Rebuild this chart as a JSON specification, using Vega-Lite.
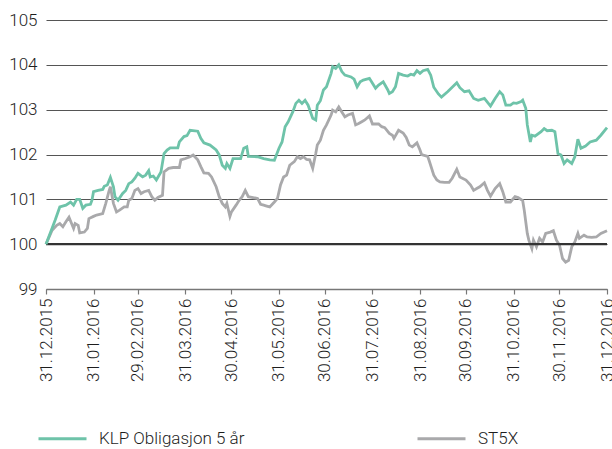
{
  "$schema": "https://vega.github.io/schema/vega-lite/v6.json",
  "width": 561,
  "height": 269,
  "autosize": {"type": "none"},
  "padding": {"left": 46, "top": 20, "right": 5, "bottom": 160},
  "config": {
    "font": "Roboto",
    "view": {"stroke": null},
    "axis": {"labelFont": "Roboto", "labelFontSize": 17, "labelColor": "#1e1e1e", "labelFontWeight": 300}
  },
  "datasets": {
    "klp": [
      {"date": "2015-12-31", "value": 100.0},
      {"date": "2016-01-06", "value": 100.54},
      {"date": "2016-01-09", "value": 100.83},
      {"date": "2016-01-13", "value": 100.87},
      {"date": "2016-01-16", "value": 100.94},
      {"date": "2016-01-18", "value": 100.87},
      {"date": "2016-01-20", "value": 101.0},
      {"date": "2016-01-22", "value": 101.0},
      {"date": "2016-01-24", "value": 100.8},
      {"date": "2016-01-26", "value": 100.87},
      {"date": "2016-01-29", "value": 100.89},
      {"date": "2016-01-30", "value": 100.98},
      {"date": "2016-01-31", "value": 101.17},
      {"date": "2016-02-03", "value": 101.2},
      {"date": "2016-02-06", "value": 101.22},
      {"date": "2016-02-07", "value": 101.29},
      {"date": "2016-02-09", "value": 101.32},
      {"date": "2016-02-11", "value": 101.49},
      {"date": "2016-02-13", "value": 101.28},
      {"date": "2016-02-14", "value": 101.06},
      {"date": "2016-02-16", "value": 100.98},
      {"date": "2016-02-19", "value": 101.13},
      {"date": "2016-02-21", "value": 101.2},
      {"date": "2016-02-23", "value": 101.35},
      {"date": "2016-02-25", "value": 101.39},
      {"date": "2016-02-27", "value": 101.47},
      {"date": "2016-02-29", "value": 101.58},
      {"date": "2016-03-03", "value": 101.5},
      {"date": "2016-03-05", "value": 101.54},
      {"date": "2016-03-07", "value": 101.64},
      {"date": "2016-03-08", "value": 101.5},
      {"date": "2016-03-10", "value": 101.52},
      {"date": "2016-03-12", "value": 101.43},
      {"date": "2016-03-15", "value": 101.61},
      {"date": "2016-03-17", "value": 102.02},
      {"date": "2016-03-19", "value": 102.1},
      {"date": "2016-03-21", "value": 102.15},
      {"date": "2016-03-26", "value": 102.15},
      {"date": "2016-03-27", "value": 102.28},
      {"date": "2016-03-30", "value": 102.4},
      {"date": "2016-04-01", "value": 102.42},
      {"date": "2016-04-03", "value": 102.54},
      {"date": "2016-04-08", "value": 102.52},
      {"date": "2016-04-10", "value": 102.36},
      {"date": "2016-04-12", "value": 102.26},
      {"date": "2016-04-16", "value": 102.21},
      {"date": "2016-04-20", "value": 102.1},
      {"date": "2016-04-22", "value": 101.99},
      {"date": "2016-04-24", "value": 101.76},
      {"date": "2016-04-26", "value": 101.69},
      {"date": "2016-04-27", "value": 101.8},
      {"date": "2016-04-29", "value": 101.69},
      {"date": "2016-05-01", "value": 101.91},
      {"date": "2016-05-06", "value": 101.91},
      {"date": "2016-05-08", "value": 102.14},
      {"date": "2016-05-10", "value": 102.17},
      {"date": "2016-05-11", "value": 101.96},
      {"date": "2016-05-17", "value": 101.95},
      {"date": "2016-05-21", "value": 101.91},
      {"date": "2016-05-25", "value": 101.88},
      {"date": "2016-05-28", "value": 101.87},
      {"date": "2016-05-31", "value": 102.14},
      {"date": "2016-06-02", "value": 102.28},
      {"date": "2016-06-04", "value": 102.62},
      {"date": "2016-06-06", "value": 102.73},
      {"date": "2016-06-09", "value": 102.95},
      {"date": "2016-06-11", "value": 103.14},
      {"date": "2016-06-13", "value": 103.21},
      {"date": "2016-06-15", "value": 103.14},
      {"date": "2016-06-17", "value": 103.21},
      {"date": "2016-06-19", "value": 103.1},
      {"date": "2016-06-22", "value": 102.81},
      {"date": "2016-06-24", "value": 102.77},
      {"date": "2016-06-25", "value": 103.1},
      {"date": "2016-06-27", "value": 103.2},
      {"date": "2016-06-29", "value": 103.44},
      {"date": "2016-07-01", "value": 103.51},
      {"date": "2016-07-04", "value": 103.81},
      {"date": "2016-07-05", "value": 103.96},
      {"date": "2016-07-07", "value": 103.92},
      {"date": "2016-07-09", "value": 104.0},
      {"date": "2016-07-11", "value": 103.85},
      {"date": "2016-07-13", "value": 103.77},
      {"date": "2016-07-17", "value": 103.73},
      {"date": "2016-07-19", "value": 103.68},
      {"date": "2016-07-21", "value": 103.51},
      {"date": "2016-07-23", "value": 103.62},
      {"date": "2016-07-25", "value": 103.66},
      {"date": "2016-07-29", "value": 103.7},
      {"date": "2016-07-31", "value": 103.59},
      {"date": "2016-08-02", "value": 103.48},
      {"date": "2016-08-04", "value": 103.55},
      {"date": "2016-08-07", "value": 103.62},
      {"date": "2016-08-10", "value": 103.44},
      {"date": "2016-08-11", "value": 103.36},
      {"date": "2016-08-13", "value": 103.4},
      {"date": "2016-08-15", "value": 103.51},
      {"date": "2016-08-17", "value": 103.81},
      {"date": "2016-08-20", "value": 103.77},
      {"date": "2016-08-23", "value": 103.75},
      {"date": "2016-08-25", "value": 103.79},
      {"date": "2016-08-27", "value": 103.77},
      {"date": "2016-08-29", "value": 103.87},
      {"date": "2016-08-31", "value": 103.81},
      {"date": "2016-09-02", "value": 103.87},
      {"date": "2016-09-05", "value": 103.9},
      {"date": "2016-09-07", "value": 103.77},
      {"date": "2016-09-09", "value": 103.5},
      {"date": "2016-09-12", "value": 103.35},
      {"date": "2016-09-14", "value": 103.28},
      {"date": "2016-09-18", "value": 103.4},
      {"date": "2016-09-21", "value": 103.5},
      {"date": "2016-09-24", "value": 103.6},
      {"date": "2016-09-26", "value": 103.49},
      {"date": "2016-09-29", "value": 103.4},
      {"date": "2016-10-02", "value": 103.42},
      {"date": "2016-10-05", "value": 103.25},
      {"date": "2016-10-08", "value": 103.21},
      {"date": "2016-10-12", "value": 103.25},
      {"date": "2016-10-16", "value": 103.08},
      {"date": "2016-10-19", "value": 103.25},
      {"date": "2016-10-22", "value": 103.4},
      {"date": "2016-10-24", "value": 103.33},
      {"date": "2016-10-26", "value": 103.1},
      {"date": "2016-10-29", "value": 103.1},
      {"date": "2016-10-31", "value": 103.15},
      {"date": "2016-11-02", "value": 103.14},
      {"date": "2016-11-05", "value": 103.18},
      {"date": "2016-11-06", "value": 103.21},
      {"date": "2016-11-08", "value": 103.03},
      {"date": "2016-11-09", "value": 102.66},
      {"date": "2016-11-11", "value": 102.28},
      {"date": "2016-11-12", "value": 102.43},
      {"date": "2016-11-14", "value": 102.41},
      {"date": "2016-11-18", "value": 102.51},
      {"date": "2016-11-20", "value": 102.58},
      {"date": "2016-11-22", "value": 102.53},
      {"date": "2016-11-25", "value": 102.54},
      {"date": "2016-11-27", "value": 102.51},
      {"date": "2016-11-29", "value": 102.02},
      {"date": "2016-12-01", "value": 101.99},
      {"date": "2016-12-03", "value": 101.8},
      {"date": "2016-12-05", "value": 101.88},
      {"date": "2016-12-08", "value": 101.8},
      {"date": "2016-12-10", "value": 101.95},
      {"date": "2016-12-12", "value": 102.34},
      {"date": "2016-12-14", "value": 102.14},
      {"date": "2016-12-17", "value": 102.19},
      {"date": "2016-12-20", "value": 102.28},
      {"date": "2016-12-24", "value": 102.32},
      {"date": "2016-12-27", "value": 102.43},
      {"date": "2016-12-31", "value": 102.6}
    ],
    "st5x": [
      {"date": "2015-12-31", "value": 100.0},
      {"date": "2016-01-04", "value": 100.31},
      {"date": "2016-01-07", "value": 100.42},
      {"date": "2016-01-09", "value": 100.46},
      {"date": "2016-01-11", "value": 100.39},
      {"date": "2016-01-13", "value": 100.5},
      {"date": "2016-01-15", "value": 100.6},
      {"date": "2016-01-18", "value": 100.35},
      {"date": "2016-01-19", "value": 100.46},
      {"date": "2016-01-21", "value": 100.42},
      {"date": "2016-01-22", "value": 100.25},
      {"date": "2016-01-25", "value": 100.27},
      {"date": "2016-01-27", "value": 100.35},
      {"date": "2016-01-28", "value": 100.57},
      {"date": "2016-01-31", "value": 100.62},
      {"date": "2016-02-02", "value": 100.65},
      {"date": "2016-02-06", "value": 100.68},
      {"date": "2016-02-08", "value": 100.91},
      {"date": "2016-02-10", "value": 101.17},
      {"date": "2016-02-11", "value": 101.28},
      {"date": "2016-02-13", "value": 100.91},
      {"date": "2016-02-15", "value": 100.72},
      {"date": "2016-02-17", "value": 100.76},
      {"date": "2016-02-20", "value": 100.83},
      {"date": "2016-02-22", "value": 100.83},
      {"date": "2016-02-23", "value": 100.98},
      {"date": "2016-02-25", "value": 101.02},
      {"date": "2016-02-27", "value": 101.2},
      {"date": "2016-02-29", "value": 101.24},
      {"date": "2016-03-02", "value": 101.13},
      {"date": "2016-03-04", "value": 101.17},
      {"date": "2016-03-07", "value": 101.2},
      {"date": "2016-03-09", "value": 101.06},
      {"date": "2016-03-11", "value": 100.98},
      {"date": "2016-03-13", "value": 101.04},
      {"date": "2016-03-16", "value": 101.09},
      {"date": "2016-03-17", "value": 101.61},
      {"date": "2016-03-20", "value": 101.69},
      {"date": "2016-03-23", "value": 101.71},
      {"date": "2016-03-27", "value": 101.71},
      {"date": "2016-03-28", "value": 101.88},
      {"date": "2016-03-31", "value": 101.91},
      {"date": "2016-04-03", "value": 101.95},
      {"date": "2016-04-05", "value": 101.99},
      {"date": "2016-04-08", "value": 101.88},
      {"date": "2016-04-10", "value": 101.73},
      {"date": "2016-04-12", "value": 101.59},
      {"date": "2016-04-15", "value": 101.58},
      {"date": "2016-04-17", "value": 101.5},
      {"date": "2016-04-20", "value": 101.28},
      {"date": "2016-04-22", "value": 101.06},
      {"date": "2016-04-24", "value": 100.91},
      {"date": "2016-04-26", "value": 100.83},
      {"date": "2016-04-27", "value": 100.91},
      {"date": "2016-04-29", "value": 100.62},
      {"date": "2016-04-30", "value": 100.72},
      {"date": "2016-05-03", "value": 100.87},
      {"date": "2016-05-05", "value": 100.98},
      {"date": "2016-05-07", "value": 101.06},
      {"date": "2016-05-09", "value": 101.2},
      {"date": "2016-05-11", "value": 101.06},
      {"date": "2016-05-14", "value": 101.04},
      {"date": "2016-05-17", "value": 101.02},
      {"date": "2016-05-19", "value": 100.89},
      {"date": "2016-05-21", "value": 100.87},
      {"date": "2016-05-23", "value": 100.85},
      {"date": "2016-05-25", "value": 100.83},
      {"date": "2016-05-28", "value": 100.94},
      {"date": "2016-05-30", "value": 101.02},
      {"date": "2016-06-01", "value": 101.32},
      {"date": "2016-06-03", "value": 101.5},
      {"date": "2016-06-05", "value": 101.54},
      {"date": "2016-06-07", "value": 101.76},
      {"date": "2016-06-10", "value": 101.84},
      {"date": "2016-06-12", "value": 101.95},
      {"date": "2016-06-14", "value": 101.91},
      {"date": "2016-06-16", "value": 101.95},
      {"date": "2016-06-18", "value": 101.89},
      {"date": "2016-06-20", "value": 101.88},
      {"date": "2016-06-22", "value": 101.69},
      {"date": "2016-06-24", "value": 102.02},
      {"date": "2016-06-25", "value": 102.21},
      {"date": "2016-06-27", "value": 102.32},
      {"date": "2016-06-29", "value": 102.54},
      {"date": "2016-07-01", "value": 102.66},
      {"date": "2016-07-04", "value": 102.88},
      {"date": "2016-07-05", "value": 102.99},
      {"date": "2016-07-07", "value": 102.95},
      {"date": "2016-07-09", "value": 103.06},
      {"date": "2016-07-11", "value": 102.95},
      {"date": "2016-07-13", "value": 102.84},
      {"date": "2016-07-15", "value": 102.88},
      {"date": "2016-07-18", "value": 102.92},
      {"date": "2016-07-20", "value": 102.66},
      {"date": "2016-07-22", "value": 102.69},
      {"date": "2016-07-24", "value": 102.73},
      {"date": "2016-07-26", "value": 102.77},
      {"date": "2016-07-29", "value": 102.86},
      {"date": "2016-07-31", "value": 102.68},
      {"date": "2016-08-04", "value": 102.68},
      {"date": "2016-08-06", "value": 102.62},
      {"date": "2016-08-08", "value": 102.6},
      {"date": "2016-08-11", "value": 102.47},
      {"date": "2016-08-13", "value": 102.43},
      {"date": "2016-08-14", "value": 102.36},
      {"date": "2016-08-17", "value": 102.54},
      {"date": "2016-08-20", "value": 102.48},
      {"date": "2016-08-22", "value": 102.38},
      {"date": "2016-08-24", "value": 102.21},
      {"date": "2016-08-26", "value": 102.17},
      {"date": "2016-08-29", "value": 102.26},
      {"date": "2016-08-31", "value": 102.1},
      {"date": "2016-09-01", "value": 102.0},
      {"date": "2016-09-05", "value": 101.96},
      {"date": "2016-09-06", "value": 101.86},
      {"date": "2016-09-09", "value": 101.54},
      {"date": "2016-09-11", "value": 101.43},
      {"date": "2016-09-13", "value": 101.39},
      {"date": "2016-09-16", "value": 101.38},
      {"date": "2016-09-19", "value": 101.38},
      {"date": "2016-09-21", "value": 101.47},
      {"date": "2016-09-24", "value": 101.67},
      {"date": "2016-09-26", "value": 101.5},
      {"date": "2016-09-30", "value": 101.43},
      {"date": "2016-10-03", "value": 101.32},
      {"date": "2016-10-05", "value": 101.2},
      {"date": "2016-10-07", "value": 101.24},
      {"date": "2016-10-09", "value": 101.28},
      {"date": "2016-10-12", "value": 101.37},
      {"date": "2016-10-14", "value": 101.2},
      {"date": "2016-10-16", "value": 101.07},
      {"date": "2016-10-19", "value": 101.24},
      {"date": "2016-10-22", "value": 101.35},
      {"date": "2016-10-24", "value": 101.17},
      {"date": "2016-10-26", "value": 100.94},
      {"date": "2016-10-29", "value": 100.94},
      {"date": "2016-11-01", "value": 101.06},
      {"date": "2016-11-03", "value": 101.04},
      {"date": "2016-11-06", "value": 100.97},
      {"date": "2016-11-07", "value": 100.76},
      {"date": "2016-11-09", "value": 100.24},
      {"date": "2016-11-10", "value": 100.09},
      {"date": "2016-11-12", "value": 99.9},
      {"date": "2016-11-13", "value": 100.09},
      {"date": "2016-11-15", "value": 99.94},
      {"date": "2016-11-17", "value": 100.13},
      {"date": "2016-11-19", "value": 100.05},
      {"date": "2016-11-21", "value": 100.24},
      {"date": "2016-11-24", "value": 100.27},
      {"date": "2016-11-26", "value": 100.3},
      {"date": "2016-11-28", "value": 100.09},
      {"date": "2016-11-30", "value": 99.98},
      {"date": "2016-12-02", "value": 99.68},
      {"date": "2016-12-04", "value": 99.6},
      {"date": "2016-12-06", "value": 99.64},
      {"date": "2016-12-08", "value": 99.94},
      {"date": "2016-12-10", "value": 100.05},
      {"date": "2016-12-12", "value": 100.24},
      {"date": "2016-12-13", "value": 100.13},
      {"date": "2016-12-16", "value": 100.2},
      {"date": "2016-12-18", "value": 100.16},
      {"date": "2016-12-21", "value": 100.15},
      {"date": "2016-12-24", "value": 100.16},
      {"date": "2016-12-27", "value": 100.24},
      {"date": "2016-12-31", "value": 100.3}
    ]
  },
  "layer": [
    {
      "data": {"name": "st5x"},
      "mark": {"type": "line", "strokeWidth": 2.8},
      "encoding": {
        "x": {
          "field": "date", "type": "temporal",
          "scale": {"type": "utc", "domain": [{"year": 2015, "month": 12, "date": 31, "utc": true}, {"year": 2016, "month": 12, "date": 31, "utc": true}]},
          "axis": {
            "title": null, "grid": false, "format": "%d.%m.%Y", "labelAngle": -90,
            "labelOverlap": false, "labelFlush": false, "labelPadding": 4,
            "domainColor": "#777777", "domainWidth": 1.5, "tickColor": "#777777", "tickSize": 5, "tickWidth": 1.2,
            "values": [
              {"year": 2015, "month": 12, "date": 31, "utc": true},
              {"year": 2016, "month": 1, "date": 31, "utc": true},
              {"year": 2016, "month": 2, "date": 29, "utc": true},
              {"year": 2016, "month": 3, "date": 31, "utc": true},
              {"year": 2016, "month": 4, "date": 30, "utc": true},
              {"year": 2016, "month": 5, "date": 31, "utc": true},
              {"year": 2016, "month": 6, "date": 30, "utc": true},
              {"year": 2016, "month": 7, "date": 31, "utc": true},
              {"year": 2016, "month": 8, "date": 31, "utc": true},
              {"year": 2016, "month": 9, "date": 30, "utc": true},
              {"year": 2016, "month": 10, "date": 31, "utc": true},
              {"year": 2016, "month": 11, "date": 30, "utc": true},
              {"year": 2016, "month": 12, "date": 31, "utc": true}
            ]
          }
        },
        "y": {
          "field": "value", "type": "quantitative",
          "scale": {"domain": [99, 105], "zero": false, "nice": false},
          "axis": {
            "title": null, "values": [99, 99.5, 100, 100.5, 101, 101.5, 102, 102.5, 103, 103.5, 104, 104.5, 105],
            "format": ".0f", "labelExpr": "datum.value % 1 === 0 ? datum.label : ''",
            "domain": false, "ticks": false, "grid": true, "gridColor": "#555555", "gridWidth": 1.2, "labelPadding": 9
          }
        },
        "color": {
          "datum": "ST5X", "type": "nominal",
          "scale": {"domain": ["KLP Obligasjon 5 år", "ST5X"], "range": ["#6ec3a9", "#a9a9ab"]},
          "legend": {
            "title": null, "orient": "none", "legendX": -9, "legendY": 393, "direction": "horizontal",
            "symbolType": "stroke", "symbolSize": 2304, "symbolStrokeWidth": 3,
            "labelFontSize": 17, "labelFont": "Roboto", "labelFontWeight": 300, "labelColor": "#1e1e1e",
            "labelOffset": 11, "labelLimit": 400, "columnPadding": 166
          }
        }
      }
    },
    {
      "data": {"values": [{}]},
      "mark": {"type": "rule", "color": "#333333", "strokeWidth": 2.2},
      "encoding": {"y": {"datum": 100, "type": "quantitative"}}
    },
    {
      "data": {"name": "klp"},
      "mark": {"type": "line", "strokeWidth": 2.8},
      "encoding": {
        "x": {"field": "date", "type": "temporal"},
        "y": {"field": "value", "type": "quantitative"},
        "color": {"datum": "KLP Obligasjon 5 år", "type": "nominal"}
      }
    }
  ]
}
